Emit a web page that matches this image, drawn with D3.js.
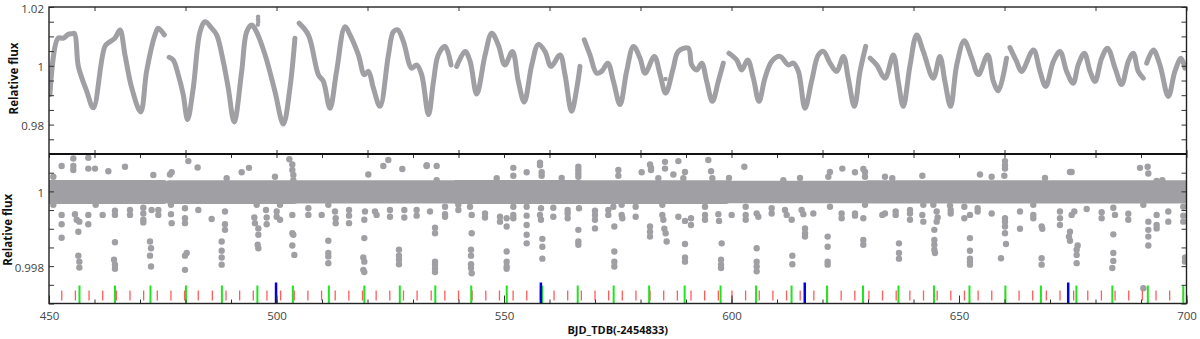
<!DOCTYPE html>
<html><head><meta charset="utf-8">
<script src="https://cdn.jsdelivr.net/npm/d3@7"></script>
<style>body{margin:0;background:#fff}svg{display:block}text{font-family:"Open Sans",sans-serif}</style>
</head><body><svg id="c" width="1200" height="339"></svg>
<script>
// ---------- axes / tick data ----------
const xDomain=[450,700];
const xLabelTicks=[450,500,550,600,650,700];
const xMinorTicks=[450,460,470,480,490,500,510,520,530,540,550,560,570,580,590,600,610,620,630,640,650,660,670,680,690,700];
const xTopTicks=[460,480,500,520,540,560,580,600,620,640,660,680,700];
const topYDomain=[0.97,1.02];
const topYLabelTicks=[0.98,1,1.02];
const topYMinorTicks=[0.97,0.975,0.98,0.985,0.99,0.995,1,1.005,1.01,1.015,1.02];
const botYDomain=[0.997,1.001];
const botYLabelTicks=[0.998,1];
const botYMinorTicks=[0.997,0.9975,0.998,0.9985,0.999,0.9995,1,1.0005,1.001];
const xTitle="BJD_TDB(-2454833)";
const yTitle="Relative flux";

// ---------- top panel: light curve segments [day, flux] ----------
const lcSegments=[
 [[450.2,0.9902],[452.0,1.0094],[453.15,1.0094],[454.25,1.0107],[455.0,1.0109],[455.6,1.0110],[456.45,0.9998],[458.3,0.9913],[459.75,0.9857],[462.3,1.0066],[463.4,1.0082],[464.5,1.0094],[465.6,1.0122],[466.7,1.0037],[468.2,0.9924],[470.15,0.9843],[471.45,0.9981],[473.3,1.0105],[474.0,1.0128],[475.35,1.0105]],
 [[476.4,1.0029],[477.3,1.0020],[478.4,0.9970],[479.5,0.9902],[480.45,0.9817],[481.7,0.9924],[483.2,1.0116],[484.3,1.0150],[485.75,1.0128],[486.85,1.0105],[488.3,1.0015],[489.4,0.9924],[490.7,0.9809],[492.35,0.9981],[493.45,1.0116],[494.55,1.0139],[495.4,1.0122],[497.5,1.0037],[499.65,0.9913],[501.5,0.9802],[502.95,0.9924],[504.05,1.0094]],
 [[504.95,1.0145],[507.0,1.0105],[509.2,0.9970],[510.3,0.9947],[511.75,0.9856],[513.2,0.9981],[515.05,1.0133],[516.15,1.0105],[518.0,1.0037],[519.3,0.9970],[520.2,0.9981],[521.3,0.9924],[522.75,0.9862],[524.6,1.0037],[525.7,1.0116],[526.65,1.0122],[527.9,1.0082],[529.7,0.9992],[530.8,1.0003],[531.9,0.9970],[533.4,0.9834],[534.5,0.9947],[535.55,1.0037],[537.05,1.0066],[538.35,1.0003]],
 [[539.6,0.9998],[541.45,1.0049],[542.55,1.0015],[544.0,0.9904],[545.85,1.0037],[547.3,1.0111],[548.75,1.0071],[550.2,1.0003],[551.85,1.0049],[553.15,0.9947],[554.45,0.9877],[556.1,1.0003],[557.55,1.0073],[559.0,1.0049],[560.35,0.9998],[562.3,1.0037],[563.4,0.9970],[564.85,0.9845],[566.0,0.9924],[566.7,0.9998]],
 [[567.65,1.0088],[568.9,1.0037],[570.35,0.9975],[571.45,0.9981],[572.8,1.0009],[574.05,0.9947],[575.5,0.9868],[576.95,0.9981],[578.45,1.0066],[579.9,1.0026],[581.0,0.9975],[583.05,1.0032],[584.3,0.9970],[585.55,0.9907],[587.2,0.9992],[588.3,1.0049],[590.5,1.0060],[591.25,1.0003],[592.35,0.9986],[593.45,1.0009],[594.55,0.9947],[595.8,0.9879],[597.1,0.9947],[598.2,1.0009]],
 [[599.45,1.0043],[601.15,1.0020],[602.25,0.9986],[603.55,1.0020],[604.8,0.9958],[606.05,0.9879],[607.35,0.9958],[608.85,1.0015],[610.65,1.0032],[612.5,1.0003],[613.6,1.0009],[614.7,0.9981],[616.15,0.9856],[617.6,0.9947],[619.1,1.0037],[620.2,1.0049],[621.65,1.0009],[623.1,0.9981],[624.6,1.0032],[625.65,0.9958],[627.0,0.9862],[628.25,0.9981],[629.5,1.0066]],
 [[630.45,1.0026],[631.9,1.0003],[633.75,0.9958],[635.55,1.0037],[636.65,0.9947],[637.75,0.9862],[639.25,1.0003],[640.7,1.0105],[642.15,1.0049],[644.35,0.9958],[645.8,1.0032],[646.9,0.9947],[648.15,0.9862],[649.5,1.0003],[651.15,1.0085],[652.8,1.0026],[654.25,0.9970],[656.3,1.0037],[657.55,0.9947],[658.65,0.9915],[660.45,1.0026]],
 [[661.2,1.0062],[662.65,1.0015],[663.75,0.9981],[666.35,1.0054],[667.8,0.9981],[669.05,0.9930],[670.75,1.0015],[672.2,1.0049],[673.65,0.9981],[675.1,0.9941],[676.2,1.0003],[677.55,1.0043],[678.8,0.9981],[679.9,0.9947],[681.35,1.0026],[682.65,1.0060],[684.3,0.9992],[685.75,0.9936],[687.2,1.0015],[688.3,1.0043],[689.4,0.9981],[690.5,0.9958]],
 [[691.25,1.0009],[692.7,1.0054],[694.15,1.0003],[696.0,0.9896],[697.45,0.9981],[698.8,1.0026],[699.65,0.9992]]
];
const lcExtra=[[495.95,1.0167],[495.95,1.0158],[496.0,1.0150],[495.9,1.0140],[585.5,0.9955]];

// ---------- bottom panel: detrended band segments ----------
const bandStart=[450.0,476.4,504.4,539.3,566.9,599.2,630.0,660.7,691.1];
const bandEnd=[475.3,503.9,538.6,566.5,598.8,629.5,660.3,690.7,700.0];
const bandHi=[1.00022,1.00021,1.00021,1.00022,1.00021,1.00020,1.00021,1.00021,1.00021];
const bandLo=[0.99975,0.99975,0.99976,0.99975,0.99975,0.99977,0.99976,0.99976,0.99976];

// ---------- bottom panel: outlying points [day, flux] ----------
const outliers=[
[450.95,1.00039],[452.78,1.00068],[455.35,1.00088],[455.35,1.00068],[455.35,1.00057],[458.64,1.00090],[458.64,1.00061],[460.11,1.00061],[463.04,1.00054],[466.70,1.00066],[472.93,1.00044],[476.96,1.00051],[476.59,1.00045],[480.62,1.00081],[482.67,1.00064],[489.05,1.00035],[492.34,1.00051],[493.95,1.00063],[499.67,1.00039],[502.82,1.00086],[503.48,1.00072],[503.48,1.00057],[503.70,1.00044],[503.70,1.00030],[520.18,1.00045],[523.48,1.00068],[524.58,1.00084],[527.65,1.00060],[533.00,1.00068],
[450.95,0.99964],[452.78,0.99937],[452.78,0.99912],[452.78,0.99876],[455.71,0.99939],[456.08,0.99924],[456.67,0.99919],[456.45,0.99892],[456.45,0.99828],[456.67,0.99812],[456.67,0.99796],[458.64,0.99937],[458.64,0.99912],[460.26,0.99964],[461.79,0.99937],[464.50,0.99948],[464.50,0.99937],[464.50,0.99864],[464.29,0.99817],[464.50,0.99804],[464.50,0.99793],[467.80,0.99950],[467.80,0.99937],[470.73,0.99956],[470.73,0.99941],[470.73,0.99924],[470.73,0.99917],[472.56,0.99950],[472.20,0.99866],[472.42,0.99848],[472.20,0.99828],[472.42,0.99799],[474.03,0.99950],[474.03,0.99937],[476.81,0.99939],[476.96,0.99915],[476.81,0.99964],[479.89,0.99955],[479.89,0.99928],[479.89,0.99915],[480.26,0.99835],[479.89,0.99828],[479.89,0.99790],[482.82,0.99950],[485.75,0.99926],[488.68,0.99946],[488.68,0.99912],[488.68,0.99897],[487.95,0.99866],[487.95,0.99841],[487.95,0.99823],[487.95,0.99804],[495.13,0.99930],[495.27,0.99915],[496.01,0.99901],[496.01,0.99884],[495.86,0.99857],[496.01,0.99848],[495.64,0.99964],[497.69,0.99950],[497.84,0.99930],[497.84,0.99912],[500.04,0.99946],[500.04,0.99932],[500.77,0.99924],[500.77,0.99964],[503.48,0.99937],[503.48,0.99888],[503.70,0.99884],[503.48,0.99855],[503.92,0.99830],[507.00,0.99955],[507.00,0.99937],[509.93,0.99937],[511.39,0.99964],[512.86,0.99946],[513.01,0.99928],[513.01,0.99915],[511.39,0.99868],[511.39,0.99835],[511.39,0.99826],[511.39,0.99808],[515.94,0.99950],[515.94,0.99935],[515.94,0.99915],[519.45,0.99946],[519.30,0.99924],[519.30,0.99875],[519.08,0.99823],[519.30,0.99812],[519.08,0.99790],[519.30,0.99784],[521.65,0.99946],[522.01,0.99937],[524.94,0.99950],[524.94,0.99932],[526.92,0.99844],[526.92,0.99828],[526.92,0.99817],[526.92,0.99805],[528.09,0.99950],[528.09,0.99930],[530.80,0.99950],[530.80,0.99935],
[533.01,1.00070],[535.20,1.00068],[535.20,1.00030],[548.39,1.00035],[552.05,1.00063],[552.05,1.00042],[554.98,1.00051],[557.91,1.00077],[557.91,1.00070],[558.28,1.00051],[558.28,1.00042],[562.68,1.00036],[566.34,1.00066],[566.34,1.00057],[566.34,1.00048],[566.34,1.00039],[575.13,1.00057],[575.13,1.00042],[580.26,1.00051],[582.09,1.00072],[582.31,1.00063],[582.31,1.00057],[583.92,1.00035],[585.39,1.00079],[585.39,1.00061],[587.22,1.00045],[588.32,1.00081],[589.78,1.00052],[589.42,1.00035],[594.91,1.00084],[595.50,1.00054],[595.79,1.00035],[602.82,1.00066],[599.45,1.00036],[611.40,1.00030],[615.06,1.00036],
[533.74,0.99946],[534.84,0.99903],[534.84,0.99888],[534.84,0.99812],[534.84,0.99804],[534.84,0.99793],[534.84,0.99784],[537.04,0.99959],[537.04,0.99939],[537.04,0.99932],[539.97,0.99964],[539.97,0.99950],[542.53,0.99959],[542.90,0.99937],[542.90,0.99888],[542.75,0.99844],[542.75,0.99828],[542.75,0.99805],[542.75,0.99795],[542.90,0.99781],[545.83,0.99941],[545.83,0.99930],[549.12,0.99932],[549.12,0.99919],[550.59,0.99928],[550.59,0.99906],[550.59,0.99839],[550.59,0.99812],[550.59,0.99799],[550.59,0.99793],[552.05,0.99959],[552.05,0.99937],[552.05,0.99928],[554.98,0.99959],[554.98,0.99935],[554.98,0.99910],[554.98,0.99884],[554.98,0.99861],[558.13,0.99955],[557.91,0.99937],[558.13,0.99924],[558.43,0.99873],[558.43,0.99852],[558.43,0.99820],[560.84,0.99956],[560.84,0.99932],[563.99,0.99950],[563.99,0.99941],[563.99,0.99928],[566.49,0.99955],[566.34,0.99897],[566.34,0.99866],[566.34,0.99857],[570.00,0.99948],[570.00,0.99937],[570.00,0.99924],[570.00,0.99901],[572.93,0.99950],[572.93,0.99937],[574.03,0.99959],[574.25,0.99906],[574.25,0.99839],[574.25,0.99812],[574.25,0.99799],[575.86,0.99964],[575.86,0.99937],[576.01,0.99928],[578.94,0.99959],[578.94,0.99932],[582.09,0.99906],[582.09,0.99892],[582.09,0.99879],[584.80,0.99964],[584.80,0.99937],[585.02,0.99924],[585.24,0.99900],[585.53,0.99888],[585.75,0.99866],[588.32,0.99932],[589.78,0.99921],[591.10,0.99928],[591.10,0.99910],[589.78,0.99859],[589.78,0.99823],[589.78,0.99812],[594.18,0.99959],[594.18,0.99937],[594.18,0.99924],[597.11,0.99939],[597.26,0.99921],[597.84,0.99861],[597.70,0.99817],[597.70,0.99804],[597.70,0.99795],[600.04,0.99937],[603.12,0.99959],[603.12,0.99937],[603.12,0.99924],[605.53,0.99941],[605.90,0.99932],[605.53,0.99848],[605.53,0.99812],[605.53,0.99799],[605.53,0.99786],[608.83,0.99955],[608.83,0.99941],[611.76,0.99950],[612.13,0.99937],[613.23,0.99924],[613.37,0.99828],[613.37,0.99805],[615.42,0.99950],[615.79,0.99939],[616.16,0.99901],[616.16,0.99888],[616.16,0.99879],
[621.64,1.00052],[621.28,1.00039],[624.36,1.00061],[627.14,1.00051],[628.97,1.00060],[629.34,1.00052],[629.34,1.00039],[633.73,1.00039],[635.34,1.00035],[641.94,1.00042],[654.61,1.00045],[657.18,1.00039],[660.11,1.00081],[660.11,1.00070],[660.11,1.00061],[659.96,1.00042],[668.90,1.00036],[674.39,1.00052],[674.76,1.00052],[689.78,1.00063],[691.46,1.00066],[691.61,1.00048],[693.44,1.00028],[694.69,1.00030],
[617.98,0.99941],[621.13,0.99879],[621.13,0.99852],[621.13,0.99812],[621.13,0.99804],[621.64,0.99959],[624.21,0.99941],[624.21,0.99928],[627.14,0.99941],[627.14,0.99935],[628.97,0.99928],[629.34,0.99964],[628.97,0.99870],[628.97,0.99857],[633.15,0.99937],[633.73,0.99941],[636.08,0.99946],[636.08,0.99937],[636.81,0.99861],[636.81,0.99835],[636.81,0.99820],[639.23,0.99950],[639.23,0.99941],[639.23,0.99924],[642.16,0.99964],[641.94,0.99937],[642.16,0.99919],[644.36,0.99964],[645.09,0.99946],[645.31,0.99930],[645.09,0.99919],[644.58,0.99897],[644.58,0.99870],[644.58,0.99857],[644.58,0.99844],[644.72,0.99835],[648.02,0.99962],[648.17,0.99950],[648.17,0.99941],[651.17,0.99959],[651.17,0.99928],[652.41,0.99937],[652.41,0.99875],[652.41,0.99841],[652.41,0.99820],[652.41,0.99811],[652.41,0.99804],[654.10,0.99955],[654.10,0.99946],[657.18,0.99941],[660.11,0.99928],[660.11,0.99919],[660.11,0.99906],[660.11,0.99888],[660.33,0.99859],[659.23,0.99821],[663.40,0.99946],[663.40,0.99900],[666.33,0.99964],[666.33,0.99937],[666.33,0.99928],[668.16,0.99906],[668.31,0.99900],[668.16,0.99821],[668.16,0.99804],[672.19,0.99946],[672.19,0.99928],[672.19,0.99910],[674.39,0.99892],[674.17,0.99879],[674.39,0.99868],[674.76,0.99937],[675.34,0.99946],[676.08,0.99855],[675.86,0.99844],[675.86,0.99830],[675.86,0.99808],[678.06,0.99953],[681.35,0.99944],[681.35,0.99928],[683.92,0.99956],[683.92,0.99885],[683.92,0.99835],[683.92,0.99814],[683.70,0.99795],[684.28,0.99937],[687.21,0.99940],[687.21,0.99924],[690.51,0.99964],[690.51,0.99741],[691.61,0.99919],[691.61,0.99897],[691.61,0.99879],[691.61,0.99855],[693.44,0.99937],[693.44,0.99910],[693.44,0.99901],[696.00,0.99946],[696.00,0.99919],[699.30,0.99959],[699.30,0.99935],[699.30,0.99919],[699.67,0.99823],[699.67,0.99812]
];

// ---------- transit markers (days) ----------
const redTransits=[452.8,455.8,458.8,461.8,464.8,467.8,470.8,473.8,476.8,479.8,482.8,485.9,488.9,491.9,494.9,497.9,500.9,503.9,506.9,509.9,512.9,515.9,518.9,521.9,524.9,527.9,530.9,534.0,537.0,540.0,543.0,546.0,549.0,552.0,555.0,558.0,561.0,564.0,567.0,570.0,573.0,576.0,579.0,582.1,585.1,588.1,591.1,594.1,597.1,600.1,603.1,606.1,609.1,612.1,615.1,618.1,621.1,624.1,627.1,630.2,633.2,636.2,639.2,642.2,645.2,648.2,651.2,654.2,657.2,660.2,663.2,666.2,669.2,672.2,675.2,678.3,681.3,684.3,687.3,690.3,693.3,696.3,699.3];
const greenTransits=[456.7,464.5,472.3,480.1,488.0,495.8,503.6,511.5,519.3,527.1,534.9,542.8,550.6,558.4,566.2,574.1,581.9,589.7,597.6,605.4,613.2,621.0,628.9,636.7,644.5,652.3,660.2,668.0,675.8,683.7,691.5,699.3];
const blueTransits=[499.9,558.1,616.1,674.0];

// ---------- drawing ----------
const svg=d3.select("#c");
const L=49,R=1186.5,T=7,M=154,B=303.5;
const gray="#a0a0a4";
const x=d3.scaleLinear(xDomain,[L,R]);
const yT=d3.scaleLinear(topYDomain,[M,T]);
const yB=d3.scaleLinear(botYDomain,[B,M]);
const fmt=d=>String(+d.toFixed(4));

const defs=svg.append("defs");
defs.append("clipPath").attr("id","cTop").append("rect").attr("x",L).attr("y",T).attr("width",R-L).attr("height",M-T);
defs.append("clipPath").attr("id","cBot").append("rect").attr("x",L).attr("y",M).attr("width",R-L).attr("height",B-M);

const gTop=svg.append("g").attr("clip-path","url(#cTop)");
const line=d3.line().x(d=>x(d[0])).y(d=>yT(d[1])).curve(d3.curveCatmullRom.alpha(0.5));
gTop.selectAll("path.lc").data(lcSegments).join("path").attr("class","lc")
 .attr("d",line).attr("fill","none").attr("stroke",gray).attr("stroke-width",5)
 .attr("stroke-linecap","round").attr("stroke-linejoin","round");
gTop.selectAll("circle").data(lcExtra).join("circle")
 .attr("cx",d=>x(d[0])).attr("cy",d=>yT(d[1])).attr("r",2.2).attr("fill",gray);

const gBot=svg.append("g").attr("clip-path","url(#cBot)");
const rDot=3.2;
gBot.selectAll("rect.band").data(bandStart.map((s,i)=>({s,e:bandEnd[i],hi:bandHi[i],lo:bandLo[i]})))
 .join("rect").attr("class","band")
 .attr("x",d=>x(d.s)-rDot).attr("width",d=>x(d.e)-x(d.s)+2*rDot)
 .attr("y",d=>yB(d.hi)-rDot).attr("height",d=>yB(d.lo)-yB(d.hi)+2*rDot)
 .attr("rx",rDot).attr("fill",gray);
gBot.selectAll("circle").data(outliers).join("circle")
 .attr("cx",d=>x(d[0])).attr("cy",d=>yB(d[1])).attr("r",rDot).attr("fill",gray);

// markers
const gm=svg.append("g");
gm.selectAll("line.r").data(redTransits).join("line").attr("class","r")
 .attr("x1",d=>x(d)).attr("x2",d=>x(d)).attr("y1",B-13).attr("y2",B-3)
 .attr("stroke","#ff5c5c").attr("stroke-width",1.3);
gm.selectAll("line.g").data(greenTransits).join("line").attr("class","g")
 .attr("x1",d=>x(d)).attr("x2",d=>x(d)).attr("y1",B-18).attr("y2",B)
 .attr("stroke","#1ee61e").attr("stroke-width",2);
gm.selectAll("line.b").data(blueTransits).join("line").attr("class","b")
 .attr("x1",d=>x(d)).attr("x2",d=>x(d)).attr("y1",B-21).attr("y2",B)
 .attr("stroke","#0000e6").attr("stroke-width",2.5);

// axes
const tickCol="#333";
function styleAxis(g){
 g.select(".domain").remove();
 g.selectAll(".tick line").attr("stroke",tickCol).attr("stroke-width",1);
 g.selectAll(".tick text").attr("fill","#444").attr("font-size",11.5).attr("font-family","'Open Sans',sans-serif");
}
function leftLabels(g){ g.selectAll(".tick text").attr("dy","0.45em"); }
// top panel
svg.append("g").attr("transform",`translate(${L},0)`)
 .call(d3.axisLeft(yT).tickValues(topYMinorTicks).tickSizeInner(-5).tickSizeOuter(0).tickPadding(5)
   .tickFormat(d=>topYLabelTicks.includes(d)?fmt(d):"")).call(styleAxis).call(leftLabels);
svg.append("g").attr("transform",`translate(${R},0)`)
 .call(d3.axisRight(yT).tickValues(topYMinorTicks).tickSizeInner(-5).tickSizeOuter(0).tickFormat("")).call(styleAxis);
svg.append("g").attr("transform",`translate(0,${T})`)
 .call(d3.axisTop(x).tickValues(xTopTicks).tickSizeInner(-4).tickSizeOuter(0).tickFormat("")).call(styleAxis);
svg.append("g").attr("transform",`translate(0,${M})`)
 .call(d3.axisBottom(x).tickValues(xTopTicks).tickSizeInner(-4).tickSizeOuter(0).tickFormat("")).call(styleAxis);
// bottom panel
svg.append("g").attr("transform",`translate(${L},0)`)
 .call(d3.axisLeft(yB).tickValues(botYMinorTicks).tickSizeInner(-5).tickSizeOuter(0).tickPadding(5)
   .tickFormat(d=>botYLabelTicks.includes(d)?fmt(d):"")).call(styleAxis).call(leftLabels);
svg.append("g").attr("transform",`translate(${R},0)`)
 .call(d3.axisRight(yB).tickValues(botYMinorTicks).tickSizeInner(-5).tickSizeOuter(0).tickFormat("")).call(styleAxis);
svg.append("g").attr("transform",`translate(0,${M})`)
 .call(d3.axisTop(x).tickValues(xMinorTicks).tickSizeInner(-4).tickSizeOuter(0).tickFormat("")).call(styleAxis);
svg.append("g").attr("transform",`translate(0,${B})`)
 .call(d3.axisBottom(x).tickValues(xMinorTicks).tickSizeInner(-4).tickSizeOuter(0).tickPadding(8)
   .tickFormat(d=>xLabelTicks.includes(d)?fmt(d):"")).call(styleAxis);
svg.append("g").attr("transform",`translate(0,${B})`)
 .call(d3.axisBottom(x).tickValues(xLabelTicks).tickSizeInner(-8).tickSizeOuter(0).tickFormat("")).call(styleAxis);

// frame
svg.append("rect").attr("x",L).attr("y",T).attr("width",R-L).attr("height",B-T)
 .attr("fill","none").attr("stroke","#222").attr("stroke-width",1.4);
svg.append("line").attr("x1",L).attr("x2",R).attr("y1",M).attr("y2",M).attr("stroke","#111").attr("stroke-width",2);

// titles
svg.append("text").attr("transform",`translate(18,${(T+M)/2-2}) rotate(-90)`).attr("text-anchor","middle")
 .attr("font-weight","bold").attr("font-size",11.5).attr("fill","#111").text(yTitle);
svg.append("text").attr("transform",`translate(12,${(M+B)/2+1}) rotate(-90)`).attr("text-anchor","middle")
 .attr("font-weight","bold").attr("font-size",11.5).attr("fill","#111").text(yTitle);
svg.append("text").attr("x",(L+R)/2).attr("y",334).attr("text-anchor","middle")
 .attr("font-weight","bold").attr("font-size",11).attr("fill","#111").text(xTitle);
</script></body></html>
